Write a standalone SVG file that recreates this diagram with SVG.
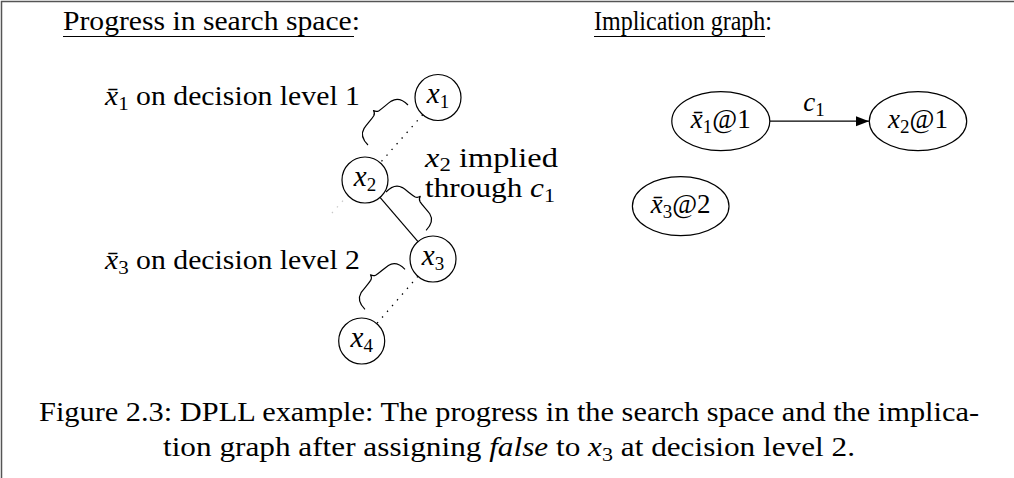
<svg xmlns="http://www.w3.org/2000/svg" width="1014" height="478" viewBox="0 0 1014 478">
<defs>
<style>
text{font-family:"Liberation Serif","Times New Roman",serif;font-size:27px;fill:#000}
.i{font-style:italic}
.s{font-size:19px}
.c{text-anchor:middle}
.nl{font-size:29px}
.nd{fill:#fff;stroke:#000;stroke-width:1.2}
.dot{stroke:#000;stroke-width:1.3;stroke-dasharray:1.4 6.2;fill:none}
.ln{stroke:#000;stroke-width:1.2;fill:none}
.br{stroke:#000;stroke-width:1.2;fill:none;stroke-linejoin:round}
.ul{stroke:#000;stroke-width:1.1}
</style>
<path id="brace" d="M0,0 C0,8 3,13 9,14.5 C14,15.5 20,15.5 24.5,16.5 C26.5,17 27.8,18.5 28.3,20.5 C28.8,18.5 30.1,17 32.1,16.5 C36.6,15.5 42.6,15.5 47.6,14.5 C53.6,13 56.6,8 56.6,0"/>
<marker id="ah" markerUnits="userSpaceOnUse" markerWidth="15" markerHeight="12" refX="13" refY="5" orient="auto"><path d="M0,0 L13,5 L0,10 Z" fill="#000"/></marker>
</defs>
<rect width="1014" height="478" fill="#fff"/>
<path d="M1.5,478 V1.5 H1014" fill="none" stroke="#555" stroke-width="1.5"/>

<g id="titles">
<text x="63" y="30" textLength="297" lengthAdjust="spacingAndGlyphs">Progress in search space:</text>
<line class="ul" x1="63" y1="36.5" x2="354" y2="36.5"/>
<text x="594" y="30" font-size="26" textLength="178" lengthAdjust="spacingAndGlyphs">Implication graph:</text>
<line class="ul" x1="594" y1="36.5" x2="765" y2="36.5"/>
</g>

<g id="connectors">
<line class="dot" x1="422.7" y1="114.7" x2="380.2" y2="162.8"/>
<line class="ln" x1="380" y1="197.4" x2="418" y2="241.6"/>
<line class="dot" x1="417.9" y1="276.3" x2="376.8" y2="323.6"/>
<line class="dot" x1="348" y1="195" x2="332" y2="213" style="stroke:#c8c8c8"/>
<use href="#brace" class="br" transform="translate(408,105) rotate(135)"/>
<use href="#brace" class="br" transform="translate(386,192) rotate(43.7) scale(0.98,-1)"/>
<use href="#brace" class="br" transform="translate(405,269.3) rotate(135)"/>
<line class="ln" x1="770" y1="121.2" x2="869" y2="121.2" marker-end="url(#ah)"/>
<text class="c" x="814" y="111"><tspan class="i">c</tspan><tspan class="s" dy="5">1</tspan></text>
</g>

<g id="labels">
<text x="105" y="105" textLength="255" lengthAdjust="spacingAndGlyphs"><tspan class="i">x̄</tspan><tspan class="s" dy="5">1</tspan><tspan dy="-5"> on decision level 1</tspan></text>
<text x="425" y="167" textLength="133" lengthAdjust="spacingAndGlyphs"><tspan class="i">x</tspan><tspan class="s" dy="4">2</tspan><tspan dy="-4"> implied</tspan></text>
<text x="425" y="197" textLength="130" lengthAdjust="spacingAndGlyphs">through <tspan class="i">c</tspan><tspan class="s" dy="5">1</tspan></text>
<text x="105" y="269" textLength="255" lengthAdjust="spacingAndGlyphs"><tspan class="i">x̄</tspan><tspan class="s" dy="5">3</tspan><tspan dy="-5"> on decision level 2</tspan></text>
</g>

<g id="node-x1">
<circle class="nd" cx="438" cy="97.5" r="23"/>
<text class="c nl" x="438" y="103"><tspan class="i">x</tspan><tspan class="s" dy="5">1</tspan></text>
</g>
<g id="node-x2">
<circle class="nd" cx="365" cy="180" r="23"/>
<text class="c nl" x="365" y="185.5"><tspan class="i">x</tspan><tspan class="s" dy="5">2</tspan></text>
</g>
<g id="node-x3">
<circle class="nd" cx="433" cy="259" r="23"/>
<text class="c nl" x="433" y="264.5"><tspan class="i">x</tspan><tspan class="s" dy="5">3</tspan></text>
</g>
<g id="node-x4">
<circle class="nd" cx="361.7" cy="341" r="23"/>
<text class="c nl" x="361.7" y="346.5"><tspan class="i">x</tspan><tspan class="s" dy="5">4</tspan></text>
</g>

<g id="node-nx1at1">
<ellipse class="nd" cx="720.8" cy="121.2" rx="49" ry="29.5"/>
<text class="c" x="720.8" y="128"><tspan class="i">x̄</tspan><tspan class="s" dy="5">1</tspan><tspan dy="-5">@1</tspan></text>
</g>
<g id="node-x2at1">
<ellipse class="nd" cx="918" cy="121.2" rx="48.7" ry="29.5"/>
<text class="c" x="918" y="128"><tspan class="i">x</tspan><tspan class="s" dy="5">2</tspan><tspan dy="-5">@1</tspan></text>
</g>
<g id="node-nx3at2">
<ellipse class="nd" cx="680.7" cy="206.2" rx="48.3" ry="29.5"/>
<text class="c" x="680.7" y="213"><tspan class="i">x̄</tspan><tspan class="s" dy="5">3</tspan><tspan dy="-5">@2</tspan></text>
</g>

<g id="caption">
<text x="39" y="421" textLength="940" lengthAdjust="spacingAndGlyphs">Figure 2.3: DPLL example: The progress in the search space and the implica-</text>
<text x="163" y="456" textLength="692" lengthAdjust="spacingAndGlyphs">tion graph after assigning <tspan class="i">false</tspan> to <tspan class="i">x</tspan><tspan class="s" dy="5">3</tspan><tspan dy="-5"> at decision level 2.</tspan></text>
</g>
</svg>
